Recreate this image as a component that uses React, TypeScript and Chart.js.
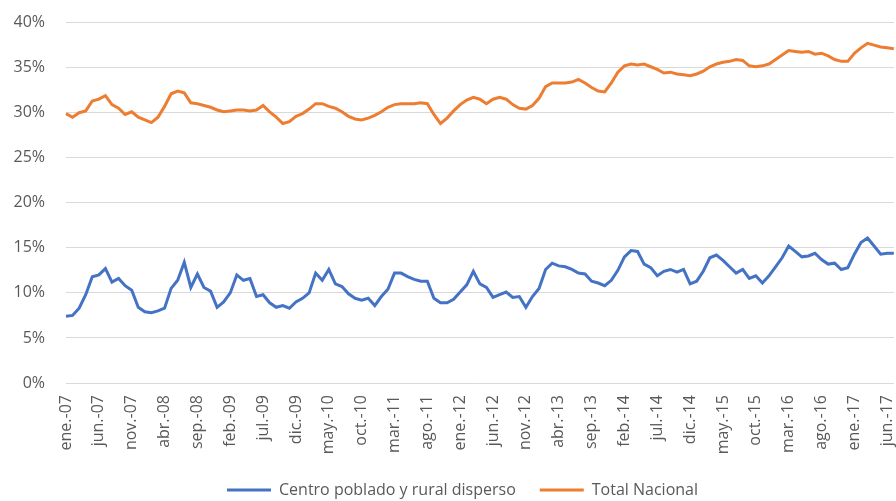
import React, { useEffect, useRef } from "react";
import { Chart, registerables } from "chart.js";

Chart.register(...registerables);

const MONTHS = ["ene.", "feb.", "mar.", "abr.", "may.", "jun.", "jul.", "ago.", "sep.", "oct.", "nov.", "dic."];
const YEARS = ["07", "08", "09", "10", "11", "12", "13", "14", "15", "16", "17"];
const TICK_EVERY = 5;
const Y_TICKS_MAX = 40;
const Y_TICKS_STEP = 5;

// Centro poblado y rural disperso (%), monthly from ene.-07
const RURAL = [
  7.4, 7.5, 8.3, 9.8, 11.8, 12.0, 12.7, 11.2, 11.6, 10.8,
  10.3, 8.4, 7.9, 7.8, 8.0, 8.3, 10.5, 11.4, 13.4, 10.6,
  12.1, 10.6, 10.2, 8.4, 9.0, 10.0, 12.0, 11.4, 11.6, 9.6,
  9.8, 8.9, 8.4, 8.6, 8.3, 9.0, 9.4, 10.0, 12.2, 11.4,
  12.6, 11.0, 10.7, 9.9, 9.4, 9.2, 9.4, 8.6, 9.6, 10.4,
  12.2, 12.2, 11.8, 11.5, 11.3, 11.3, 9.4, 8.9, 8.9, 9.3,
  10.1, 10.9, 12.4, 11.0, 10.6, 9.5, 9.8, 10.1, 9.5, 9.6,
  8.4, 9.6, 10.5, 12.6, 13.3, 13.0, 12.9, 12.6, 12.2, 12.1,
  11.3, 11.1, 10.8, 11.4, 12.5, 14.0, 14.7, 14.6, 13.2, 12.8,
  11.9, 12.4, 12.6, 12.3, 12.6, 11.0, 11.3, 12.4, 13.9, 14.2,
  13.6, 12.9, 12.2, 12.6, 11.6, 11.9, 11.1, 11.9, 12.9, 13.9,
  15.2, 14.6, 14.0, 14.1, 14.4, 13.7, 13.2, 13.3, 12.6, 12.8,
  14.3, 15.6, 16.1, 15.2, 14.3, 14.4, 14.4,
];

// Total Nacional (%), monthly from ene.-07
const NACIONAL = [
  29.9, 29.5, 30.0, 30.2, 31.3, 31.5, 31.9, 30.9, 30.5, 29.8,
  30.1, 29.5, 29.2, 28.9, 29.5, 30.7, 32.1, 32.4, 32.2, 31.1,
  31.0, 30.8, 30.6, 30.3, 30.1, 30.2, 30.3, 30.3, 30.2, 30.3,
  30.8, 30.1, 29.5, 28.8, 29.0, 29.6, 29.9, 30.4, 31.0, 31.0,
  30.7, 30.5, 30.1, 29.6, 29.3, 29.2, 29.4, 29.7, 30.1, 30.6,
  30.9, 31.0, 31.0, 31.0, 31.1, 31.0, 29.8, 28.8, 29.4, 30.2,
  30.9, 31.4, 31.7, 31.5, 31.0, 31.5, 31.7, 31.5, 30.9, 30.5,
  30.4, 30.8, 31.6, 32.9, 33.3, 33.3, 33.3, 33.4, 33.7, 33.3,
  32.8, 32.4, 32.3, 33.3, 34.5, 35.2, 35.4, 35.3, 35.4, 35.1,
  34.8, 34.4, 34.5, 34.3, 34.2, 34.1, 34.3, 34.6, 35.1, 35.4,
  35.6, 35.7, 35.9, 35.8, 35.2, 35.1, 35.2, 35.4, 35.9, 36.4,
  36.9, 36.8, 36.7, 36.8, 36.5, 36.6, 36.3, 35.9, 35.7, 35.7,
  36.6, 37.2, 37.7, 37.5, 37.3, 37.2, 37.1,
];

const CATEGORIES: string[] = [];
for (const y of YEARS) {
  for (const m of MONTHS) {
    if (CATEGORIES.length < NACIONAL.length) CATEGORIES.push(`${m}-${y}`);
  }
}

const FONT = "'Open Sans', sans-serif";
const TEXT = "#595959";

export default function App() {
  const ref = useRef<HTMLCanvasElement | null>(null);
  useEffect(() => {
    if (!ref.current) return;
    const chart = new Chart(ref.current, {
      type: "line",
      data: {
        labels: CATEGORIES,
        datasets: [
          {
            label: "Centro poblado y rural disperso",
            data: RURAL,
            borderColor: "#4472C4",
            backgroundColor: "#4472C4",
            borderWidth: 3,
            pointRadius: 0,
            tension: 0,
          },
          {
            label: "Total Nacional",
            data: NACIONAL,
            borderColor: "#ED7D31",
            backgroundColor: "#ED7D31",
            borderWidth: 3,
            pointRadius: 0,
            tension: 0,
          },
        ],
      },
      options: {
        animation: false,
        responsive: false,
        layout: { padding: { top: 22, left: 14, right: 14, bottom: -7 } },
        plugins: {
          tooltip: { enabled: false },
          legend: {
            position: "bottom",
            labels: {
              usePointStyle: true,
              pointStyle: "line",
              pointStyleWidth: 44,
              padding: 24,
              color: TEXT,
              font: { family: FONT, size: 16 },
            },
          },
        },
        scales: {
          x: {
            type: "category",
            offset: false,
            grid: { display: false, drawTicks: false },
            border: { display: false },
            afterFit: (s: any) => {
              s.height = 75;
            },
            ticks: {
              autoSkip: false,
              minRotation: 90,
              maxRotation: 90,
              padding: 12,
              color: TEXT,
              font: { family: FONT, size: 16 },
              callback: (_v: any, i: number) => (i % TICK_EVERY === 0 ? CATEGORIES[i] : ""),
            },
          },
          y: {
            min: 0,
            max: Y_TICKS_MAX,
            grid: { color: "#d9d9d9", lineWidth: 1, drawTicks: false },
            border: { display: false },
            afterFit: (s: any) => {
              s.width = 52;
            },
            ticks: {
              stepSize: Y_TICKS_STEP,
              padding: 21,
              color: TEXT,
              font: { family: FONT, size: 16 },
              callback: (v: any) => `${v}%`,
            },
          },
          y2: {
            type: "linear",
            position: "right",
            display: true,
            min: 0,
            max: Y_TICKS_MAX,
            grid: { display: false, drawTicks: false },
            border: { display: false },
            ticks: { display: false },
            afterFit: (s: any) => {
              s.width = 12;
            },
          },
        },
      },
    });
    return () => chart.destroy();
  }, []);
  return (
    <div style={{ position: "fixed", left: 0, top: 0, width: 896, height: 501, overflow: "hidden", background: "#fff" }}>
      <canvas ref={ref} width={925} height={509} style={{ display: "block", marginTop: -8 }} />
    </div>
  );
}
